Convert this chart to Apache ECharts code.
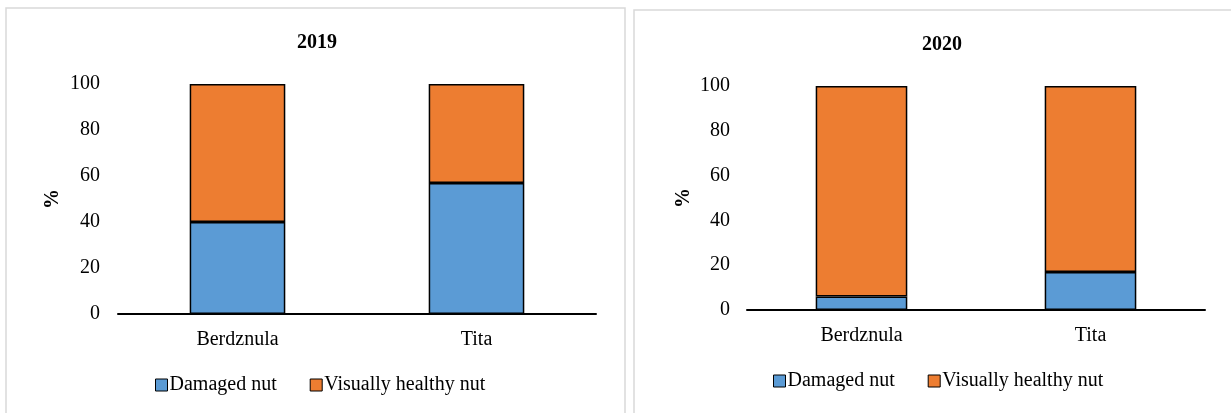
<!DOCTYPE html>
<html>
<head>
<meta charset="utf-8">
<script src="https://cdn.jsdelivr.net/npm/echarts@6/dist/echarts.min.js"></script>
<style>
html,body{margin:0;padding:0;background:#fff;}
#chart{width:1231px;height:413px;}
</style>
</head>
<body>
<div id="chart"></div>
<script>
const categories = ['Berdznula', 'Tita'];
const seriesNames = ['Damaged nut', 'Visually healthy nut'];
const damaged2019 = [40, 57];
const healthy2019 = [60, 43];
const damaged2020 = [6, 17];
const healthy2020 = [94, 83];
const yTicks = [0, 20, 40, 60, 80, 100];
const titles = ['2019', '2020'];

const FONT = '"Liberation Serif", "Times New Roman", serif';
const BLUE = '#5B9BD5';
const ORANGE = '#ED7D31';

const chart = echarts.init(document.getElementById('chart'), null, {renderer: 'canvas'});

function xAxis(gi) {
  return {
    type: 'category', gridIndex: gi, data: categories,
    axisLine: {lineStyle: {color: '#000', width: 2}},
    axisTick: {show: false},
    axisLabel: {color: '#000', fontFamily: FONT, fontSize: 20, margin: 16}
  };
}
function yAxis(gi, gap, margin) {
  return {
    type: 'value', gridIndex: gi, min: yTicks[0], max: yTicks[yTicks.length - 1], interval: yTicks[1] - yTicks[0],
    name: '%', nameLocation: 'middle', nameGap: gap,
    nameTextStyle: {color: '#000', fontFamily: FONT, fontSize: 20, fontWeight: 'bold'},
    axisLine: {show: false}, axisTick: {show: false}, splitLine: {show: false},
    axisLabel: {color: '#000', fontFamily: FONT, fontSize: 20, margin: margin}
  };
}
function bar(name, data, gi, color) {
  return {
    name: name, type: 'bar', stack: 's' + gi, xAxisIndex: gi, yAxisIndex: gi,
    data: data, barCategoryGap: '60%',
    itemStyle: {color: color, borderColor: '#000', borderWidth: 1.5},
    emphasis: {disabled: true}
  };
}
const legendCommon = {
  data: seriesNames, icon: 'rect', itemWidth: 12, itemHeight: 12, itemGap: 33, padding: 0,
  itemStyle: {borderColor: '#000', borderWidth: 1},
  textStyle: {color: '#000', fontFamily: FONT, fontSize: 20, padding: [0, 0, 0, -3]},
  selectedMode: false
};

chart.setOption({
  animation: false,
  backgroundColor: '#fff',
  graphic: [
    {type: 'rect', shape: {x: 6, y: 8, width: 619, height: 430}, style: {fill: 'none', stroke: '#d9d9d9', lineWidth: 1.5}, silent: true},
    {type: 'rect', shape: {x: 634, y: 10, width: 610, height: 430}, style: {fill: 'none', stroke: '#d9d9d9', lineWidth: 1.5}, silent: true}
  ],
  title: [
    {text: titles[0], left: 317, top: 33, textAlign: 'center', padding: 0,
     textStyle: {color: '#000', fontFamily: FONT, fontSize: 20, fontWeight: 'bold'}},
    {text: titles[1], left: 942, top: 35, textAlign: 'center', padding: 0,
     textStyle: {color: '#000', fontFamily: FONT, fontSize: 20, fontWeight: 'bold'}}
  ],
  legend: [
    Object.assign({}, legendCommon, {left: 155, top: 375}),
    Object.assign({}, legendCommon, {left: 773, top: 371})
  ],
  grid: [
    {left: 118, right: 635, top: 84, bottom: 99},
    {left: 747, right: 26, top: 86, bottom: 103}
  ],
  xAxis: [xAxis(0), xAxis(1)],
  yAxis: [yAxis(0, 55, 18), yAxis(1, 53, 17)],
  series: [
    bar(seriesNames[0], damaged2019, 0, BLUE),
    bar(seriesNames[1], healthy2019, 0, ORANGE),
    bar(seriesNames[0], damaged2020, 1, BLUE),
    bar(seriesNames[1], healthy2020, 1, ORANGE)
  ]
});
</script>
</body>
</html>
